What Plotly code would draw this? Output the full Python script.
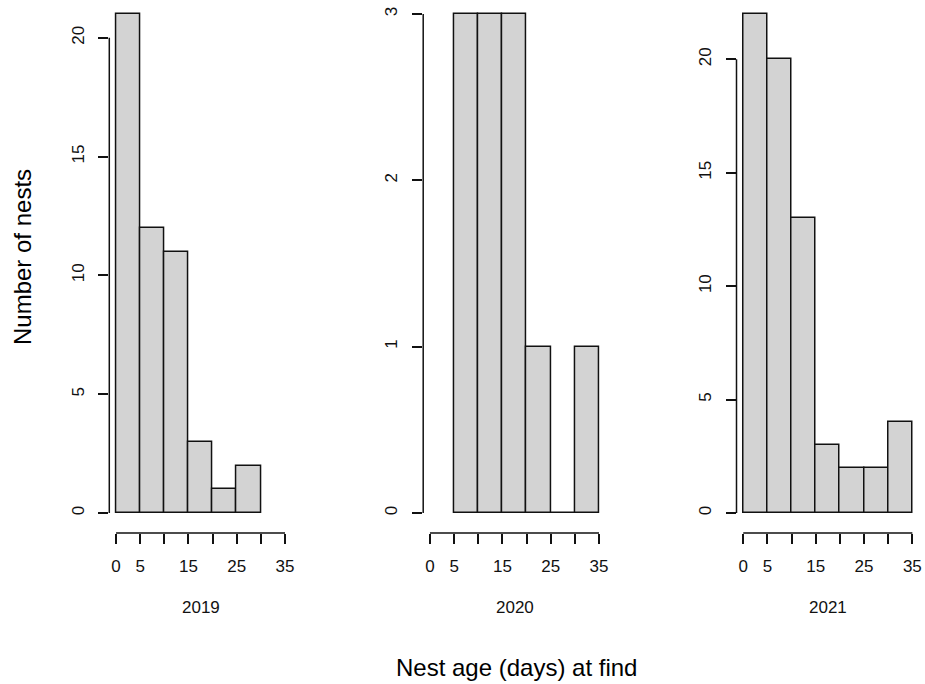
import plotly.graph_objects as go

# ---- data ----
years = ["2019", "2020", "2021"]
bin_starts_2019 = [0, 5, 10, 15, 20, 25]
counts_2019 = [21, 12, 11, 3, 1, 2]
bin_starts_2020 = [5, 10, 15, 20, 25, 30]
counts_2020 = [3, 3, 3, 1, 0, 1]
bin_starts_2021 = [0, 5, 10, 15, 20, 25, 30]
counts_2021 = [22, 20, 13, 3, 2, 2, 4]
bin_width = 5
x_tick_vals = [0, 5, 10, 15, 20, 25, 30, 35]
x_tick_text = ["0", "5", "", "15", "", "25", "", "35"]
y_ticks_2019 = [0, 5, 10, 15, 20]
y_ticks_2020 = [0, 1, 2, 3]
y_ticks_2021 = [0, 5, 10, 15, 20]

panels = [
    (years[0], bin_starts_2019, counts_2019, y_ticks_2019),
    (years[1], bin_starts_2020, counts_2020, y_ticks_2020),
    (years[2], bin_starts_2021, counts_2021, y_ticks_2021),
]

W, H = 925, 684
plot_bottom_px = 533
domains = [(109.3, 291.8), (423.2, 605.8), (736.5, 919.1)]

FONT = "Liberation Sans, Arial, sans-serif"
INK = "#111111"
LW = 1.5
fig = go.Figure()

for i, (yr, starts, counts, yt) in enumerate(panels):
    sfx = "" if i == 0 else str(i + 1)
    xa, ya = "x" + sfx, "y" + sfx
    centers = [s + bin_width / 2 for s in starts]
    fig.add_trace(go.Bar(
        x=centers, y=counts, width=[bin_width] * len(counts),
        marker=dict(color="#D3D3D3", line=dict(color=INK, width=LW)),
        xaxis=xa, yaxis=ya, showlegend=False, hoverinfo="x+y",
    ))
    M = max(counts)
    d0, d1 = domains[i]
    fig.layout["xaxis" + sfx] = dict(
        domain=[d0 / W, d1 / W], anchor=ya, range=[-1.4, 36.4],
        showgrid=False, zeroline=False, showline=False,
        tickmode="array", tickvals=x_tick_vals, ticktext=x_tick_text,
        ticks="outside", ticklen=10, tickwidth=LW, tickcolor=INK,
        tickfont=dict(family=FONT, size=17, color=INK),
        ticklabelstandoff=8, automargin=False, fixedrange=True,
    )
    fig.layout["yaxis" + sfx] = dict(
        domain=[0, 1], anchor=xa, range=[-0.04 * M, 1.028 * M],
        showgrid=False, zeroline=False, showline=False,
        tickmode="array", tickvals=yt, ticktext=[str(v) for v in yt],
        ticks="outside", ticklen=10, tickwidth=LW, tickcolor=INK,
        tickangle=-90,
        tickfont=dict(family=FONT, size=17, color=INK),
        ticklabelstandoff=8, automargin=False, fixedrange=True,
    )
    # axis lines spanning only the tick range, like base R
    fig.add_shape(type="line", xref=xa, yref=ya + " domain",
                  x0=x_tick_vals[0], x1=x_tick_vals[-1], y0=0, y1=0,
                  line=dict(color=INK, width=LW))
    fig.add_shape(type="line", xref=xa + " domain", yref=ya,
                  x0=0, x1=0, y0=yt[0], y1=yt[-1],
                  line=dict(color=INK, width=LW))
    fig.add_annotation(text=yr, xref=xa, yref="paper",
                       x=(x_tick_vals[0] + x_tick_vals[-1]) / 2,
                       y=(plot_bottom_px - 607) / plot_bottom_px,
                       showarrow=False, xanchor="center", yanchor="middle",
                       font=dict(family=FONT, size=17, color=INK))

fig.add_annotation(text="Number of nests", xref="paper", yref="paper",
                   x=22 / W, y=(plot_bottom_px - 257) / plot_bottom_px,
                   textangle=-90, showarrow=False,
                   xanchor="center", yanchor="middle",
                   font=dict(family=FONT, size=24, color="#000000"))
fig.add_annotation(text="Nest age (days) at find", xref="paper", yref="paper",
                   x=516 / W, y=(plot_bottom_px - 667) / plot_bottom_px,
                   showarrow=False, xanchor="center", yanchor="middle",
                   font=dict(family=FONT, size=24, color="#000000"))

fig.update_layout(
    width=W, height=H,
    margin=dict(l=0, r=0, t=0, b=H - plot_bottom_px, pad=0),
    paper_bgcolor="white", plot_bgcolor="white",
    bargap=0, showlegend=False,
)

fig.write_html(
    "out.html",
    config={"displayModeBar": False},
    post_script="document.body.style.margin='0';document.body.style.padding='0';",
)
